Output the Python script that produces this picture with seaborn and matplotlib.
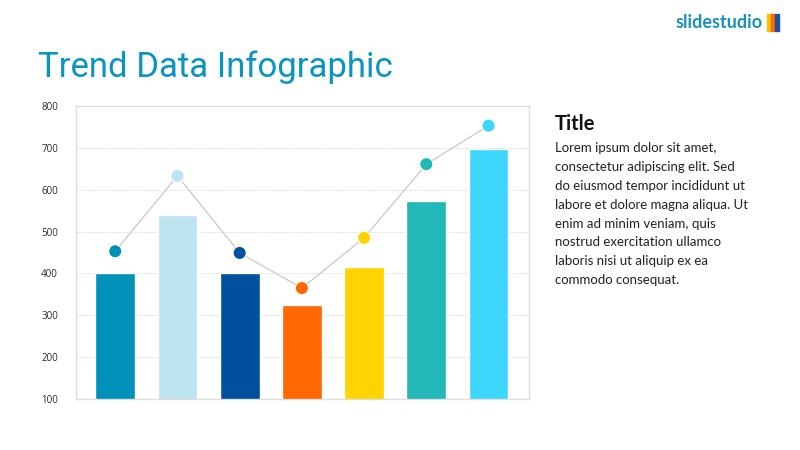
import numpy as np
import pandas as pd
import matplotlib
matplotlib.use("Agg")
import matplotlib.pyplot as plt
import seaborn as sns
from matplotlib.patches import Rectangle

# data
categories = ["A", "B", "C", "D", "E", "F", "G"]
bar_values = [400, 540, 402, 325, 415, 572, 697]
point_values = [453, 633, 449, 365, 485, 661, 753]
colors = ["#0091B9", "#BCE4F1", "#00509D", "#FF6701", "#FFD400", "#23B8B8", "#3DD6FF"]
yticks = [100, 200, 300, 400, 500, 600, 700, 800]

df = pd.DataFrame({"cat": categories, "bar": bar_values,
                   "point": point_values, "pos": range(len(categories))})

sns.set_theme(style="white")
plt.rcParams['font.family'] = ['Lato', 'DejaVu Sans']

fig = plt.figure(figsize=(8, 4.5), dpi=100)
ax = fig.add_axes([76/800, 1 - 399/450, (529-76)/800, (399-106)/450])

sns.barplot(data=df, x="cat", y="bar", hue="cat", palette=colors,
            width=0.64, legend=False, ax=ax, saturation=1)
ax.plot(df["pos"], df["point"], color="#c8c8c8", lw=0.9, zorder=3)
sns.scatterplot(data=df, x="pos", y="point", hue="cat", palette=colors,
                s=90, edgecolor="white", linewidth=0.8, legend=False,
                ax=ax, zorder=4)

ax.set_ylim(100, 800)
ax.set_xlim(-0.63, 6.65)
ax.set_yticks(yticks)
ax.set_yticklabels([str(v) for v in yticks], fontsize=7, color="#2a2a2a",
                   family=["Open Sans", "DejaVu Sans"])
ax.set_xticks([])
ax.set_xlabel("")
ax.set_ylabel("")
ax.tick_params(axis="y", length=0, pad=13)
ax.grid(axis="y", color="#e2e2e2", lw=0.7, ls=(0, (2, 1)))
ax.set_axisbelow(True)
for s in ax.spines.values():
    s.set_color("#dedede")
    s.set_linewidth(1)

# title
fig.text(38/800, 1 - 77/450, "Trend Data Infographic", fontsize=25,
         color="#0A94C2", va="baseline", ha="left", family=["Roboto", "DejaVu Sans"])

# side text
fig.text(555/800, 1 - 124/450, "Title", fontsize=14.5, fontweight="bold",
         color="#111111", va="center", ha="left")
body = ["Lorem ipsum dolor sit amet,",
        "consectetur adipiscing elit. Sed",
        "do eiusmod tempor incididunt ut",
        "labore et dolore magna aliqua. Ut",
        "enim ad minim veniam, quis",
        "nostrud exercitation ullamco",
        "laboris nisi ut aliquip ex ea",
        "commodo consequat."]
for i, line in enumerate(body):
    fig.text(555/800, 1 - (148 + i*18.9)/450, line, fontsize=9.5,
             color="#222222", va="center", ha="left")

# logo
fig.text(763/800, 1 - 23/450, "slidestudio", fontsize=13, fontweight="bold",
         color="#1A8FC0", va="center", ha="right")
for j, c in enumerate(["#FFC000", "#FF6A00", "#1F4FA0"]):
    fig.patches.append(Rectangle(((767 + j*4)/800, 1 - 31/450), 4/800, 17/450,
                                 transform=fig.transFigure, color=c))

fig.savefig("out.png", dpi=100)
